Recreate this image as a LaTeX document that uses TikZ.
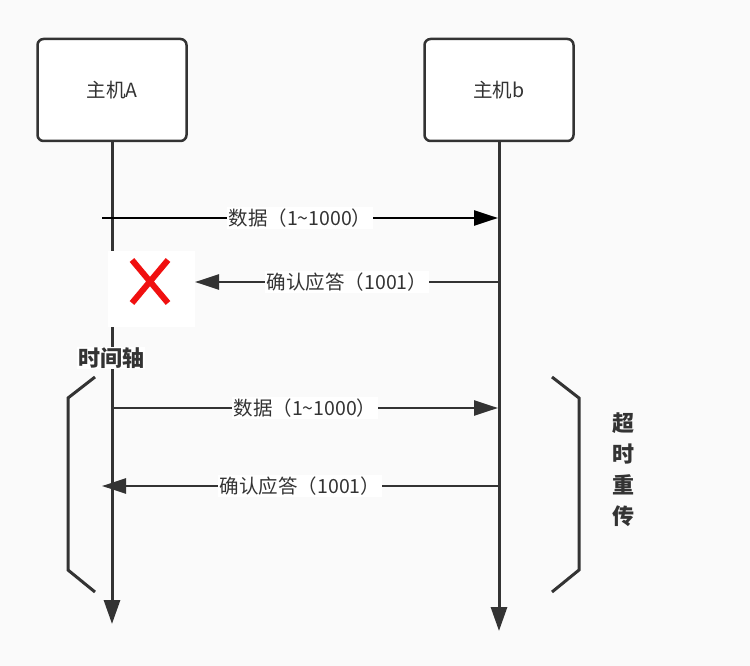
\documentclass[tikz,border=0pt]{standalone}
\usepackage{fontspec}
\setmainfont{Noto Sans CJK SC}
\usetikzlibrary{arrows.meta}
\definecolor{ink}{HTML}{333333}
\definecolor{paper}{HTML}{FAFAFA}
\definecolor{cross}{HTML}{F01010}
\begin{document}
\begin{tikzpicture}
    [
    x=1pt, y=-1pt,
    host/.style={draw=ink,line width=2.5pt,rounded corners=6pt,fill=white,minimum width=149pt,minimum height=102pt,text=ink,font=\fontsize{19.5}{22}\selectfont},
    life/.style={draw=ink,line width=3pt,-{Triangle[length=24pt,width=16pt]}},
    msg/.style={line width=2.6pt,-{Triangle[length=24pt,width=15pt]}},
    tag/.style={fill=white,inner sep=2pt,text=ink,font=\fontsize{19.5}{22}\selectfont},
    brace/.style={draw=ink,line width=3pt},
    bold/.style={text=ink,font=\fontsize{22}{31}\selectfont\bfseries}
    ]
    \fill [paper] (0,0) rectangle (750,666);
    \node (A) at (112,90) [host] {主机A};
    \node (B) at (499,90) [host] {主机b};
    \coordinate (Aend) at (112,624);
    \coordinate (Bend) at (499,631);
    \draw [life] (A) to (Aend);
    \draw [life] (B) to (Bend);
    \node (lost) at (151,289) [fill=white,minimum width=87pt,minimum height=76pt] {};
    \draw [cross,line width=6pt] (132,260) -- (168,303) (168,260) -- (132,303);
    \coordinate (a1) at (102,218);
    \coordinate (b1) at (498,218);
    \coordinate (a2) at (195,282);
    \coordinate (b2) at (499,282);
    \coordinate (a3) at (112,408);
    \coordinate (b3) at (498,408);
    \coordinate (b4) at (498,486);
    \coordinate (a4) at (102,486);
    \draw [msg,black] (a1) to node [tag] {数据（1\textasciitilde1000）} (b1);
    \draw [msg,ink] (b2) to node [tag] {确认应答（1001）} (a2);
    \draw [msg,ink] (a3) to node [tag] {数据（1\textasciitilde1000）} (b3);
    \draw [msg,ink] (b4) to node [tag] {确认应答（1001）} (a4);
    \node (axis) at (111,358) [bold,fill=white,inner sep=1pt] {时间轴};
    \draw [brace] (95,377) -- (68,398) -- (68,570) -- (95,592);
    \draw [brace] (552,377) -- (579,398) -- (579,570) -- (552,592);
    \node (retry) at (623,470) [bold,align=center] {超\\时\\重\\传};
\end{tikzpicture}
\end{document}
